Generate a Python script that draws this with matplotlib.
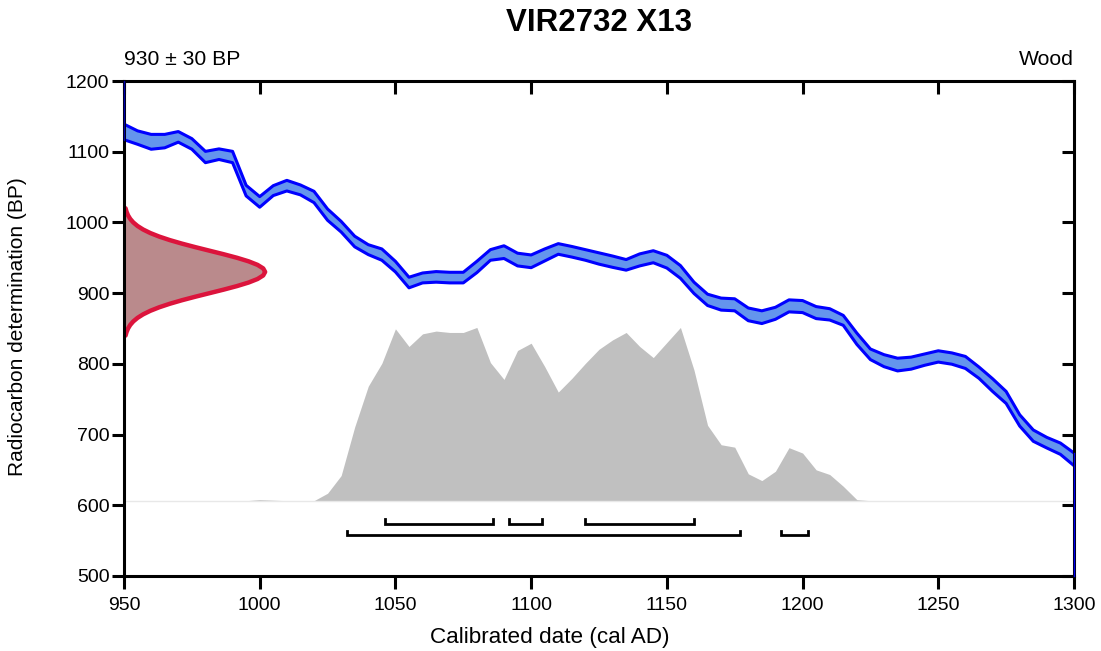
import numpy as np
import matplotlib
matplotlib.use("Agg")
import matplotlib.pyplot as plt
from matplotlib import transforms

plt.rcParams['font.family'] = ['Liberation Sans', 'DejaVu Sans']

# ---------------- data ----------------
title = "VIR2732 X13"
date_label = "930 \u00b1 30 BP"
material = "Wood"

curve_years = list(range(950, 1305, 5))
curve_bp = [1128, 1120, 1114, 1115, 1121, 1111, 1092.5, 1096.5, 1092.5, 1045,
            1029, 1045, 1052, 1046, 1036, 1011, 994, 973, 961.5, 954.5,
            937.5, 915, 921.5, 923, 922, 922, 937, 954, 958, 947.5,
            945, 954, 962.5, 958.5, 954, 949, 944.5, 940, 947, 951.5,
            944.5, 930, 907.5, 890.5, 884.5, 883.5, 870, 866, 871.5, 882,
            881, 872.5, 870, 861.5, 835.5, 813.5, 804.5, 799, 801, 806,
            810.5, 807.5, 802, 787.5, 770, 752.5, 720, 698.5, 688.5, 680,
            665]
curve_err = [11, 9.5, 10.5, 9.5, 7.5, 7.5, 8, 7.5, 8, 7.5,
             7.5, 7, 7.5, 7, 8, 8, 7.5, 7.5, 7, 8,
             7.5, 7.5, 7, 7.5, 7.5, 7.5, 8, 7.5, 9, 9,
             9, 8.5, 7.5, 7.5, 7.5, 8, 8, 7.5, 8.5, 8.5,
             9, 9, 8, 8, 8.5, 8.5, 9, 9, 8.5, 8.5,
             8.5, 8.5, 8, 7, 8, 7.5, 8.5, 9, 8.5, 8,
             8, 8, 8.5, 8, 9, 8.5, 8, 8, 7.5, 8,
             9]

# calibrated probability (relative), same 5-year grid
cal_prob = [0, 0, 0, 0, 0, 0, 0, 0, 0, 0,
            0.006, 0.003, 0, 0, 0, 0.043, 0.145, 0.426, 0.661, 0.793,
            0.992, 0.890, 0.963, 0.979, 0.971, 0.971, 1.0, 0.797, 0.700, 0.867,
            0.909, 0.774, 0.627, 0.706, 0.793, 0.874, 0.928, 0.971, 0.890, 0.826,
            0.913, 1.0, 0.754, 0.435, 0.323, 0.309, 0.155, 0.116, 0.170, 0.306,
            0.275, 0.178, 0.151, 0.083, 0.006, 0, 0, 0, 0, 0,
            0, 0, 0, 0, 0, 0, 0, 0, 0, 0,
            0]

# radiocarbon determination distribution (relative)
rdate_bp = list(range(840, 1025, 5))
rdate_prob = [0.0111, 0.0181, 0.0286, 0.0439, 0.0657, 0.0956, 0.1353, 0.1863, 0.2494, 0.3247,
              0.4111, 0.5063, 0.6065, 0.7066, 0.8007, 0.8825, 0.9460, 0.9862, 1.0,
              0.9862, 0.9460, 0.8825, 0.8007, 0.7066, 0.6065, 0.5063, 0.4111, 0.3247, 0.2494,
              0.1863, 0.1353, 0.0956, 0.0657, 0.0439, 0.0286, 0.0181, 0.0111]

range_68 = [(1046, 1086), (1092, 1104), (1120, 1160)]
range_95 = [(1032, 1177), (1192, 1202)]

x_ticks = [950, 1000, 1050, 1100, 1150, 1200, 1250, 1300]
y_ticks = [500, 600, 700, 800, 900, 1000, 1100, 1200]

# ---------------- layout / style ----------------
W, H = 1101, 651
fig = plt.figure(figsize=(W / 100, H / 100), dpi=100)
ax = fig.add_axes([124 / W, 1 - 576 / H, (1074 - 124) / W, (576 - 81) / H])
ax.set_xlim(950, 1300)
ax.set_ylim(500, 1200)

cy = np.array(curve_years, dtype=float)
cb = np.array(curve_bp, dtype=float)
ce = np.array(curve_err, dtype=float)
upper = cb + ce
lower = cb - ce

# calibrated distribution (grey)
prob_base = 606.5
prob_height = 245
cp = np.array(cal_prob)
ax.fill_between(cy, prob_base, prob_base + cp * prob_height, color='#c0c0c0',
                linewidth=0, zorder=1)
ax.axhline(prob_base, color='#e8e8e8', lw=1.0, zorder=1)

# radiocarbon determination (red)
rb = np.array(rdate_bp, dtype=float)
rp = np.array(rdate_prob)
rdate_width = 52
rx = 950 + rp * rdate_width
ax.fill_betweenx(rb, 950, rx, color='#ba8a8c', linewidth=0, zorder=2)
poly_x = np.concatenate([[950], rx, [950]])
poly_y = np.concatenate([[rb[0]], rb, [rb[-1]]])
ax.plot(poly_x, poly_y, color='#dc143c', lw=3.2, zorder=3, solid_joinstyle='round',
        solid_capstyle='round')

# calibration curve (blue band)
ax.fill_between(cy, lower, upper, color='#6495ed', linewidth=0, zorder=4)
ax.plot(cy, upper, color='#0000ff', lw=2.2, zorder=5, solid_joinstyle='round')
ax.plot(cy, lower, color='#0000ff', lw=2.2, zorder=5, solid_joinstyle='round')
ax.plot([cy[-1], cy[-1]], [upper[-1], 500], color='#0000ee', lw=1.0, zorder=11,
        clip_on=False)
ax.plot([cy[0], cy[0]], [lower[0], 1200], color='#0000aa', lw=1.0, zorder=11,
        clip_on=False)

# ranges
def draw_ranges(ranges, level, tick=6):
    for a, b in ranges:
        ax.plot([a, a, b, b], [level + tick, level, level, level + tick],
                color='black', lw=2.0, zorder=6, solid_joinstyle='miter')

draw_ranges(range_68, 574)
draw_ranges(range_95, 558)

# axes styling
for s in ax.spines.values():
    s.set_linewidth(2.2)
    s.set_zorder(10)
ax.set_xticks(x_ticks)
ax.set_yticks(y_ticks)
ax.tick_params(axis='both', which='both', labelsize=14, width=2.2, length=9,
               colors='black')
ax.tick_params(axis='x', top=True, direction='out', pad=6)
ax.tick_params(axis='y', right=True, direction='out', pad=1.5)
# top/right ticks point inwards
for t in ax.xaxis.get_major_ticks():
    t.tick2line.set_marker(matplotlib.lines.TICKDOWN)
for t in ax.yaxis.get_major_ticks():
    t.tick2line.set_marker(matplotlib.lines.TICKLEFT)

fig.text(550 / W, 1 - 637 / H, "Calibrated date (cal AD)", ha='center', va='center',
         fontsize=16.2)
fig.text(18 / W, 1 - 327 / H, "Radiocarbon determination (BP)", ha='center', va='center',
         rotation=90, fontsize=15)

fig.text(599 / W, 1 - 23 / H, title, ha='center', va='center', fontsize=22.5,
         fontweight='bold')
off = transforms.ScaledTranslation(0, 12 / 100, fig.dpi_scale_trans)
ax.text(0, 1.0, date_label, transform=ax.transAxes + off,
        ha='left', va='bottom', fontsize=15.2)
ax.text(1, 1.0, material, transform=ax.transAxes + off,
        ha='right', va='bottom', fontsize=15.2)

fig.savefig("out.png", dpi=100)
